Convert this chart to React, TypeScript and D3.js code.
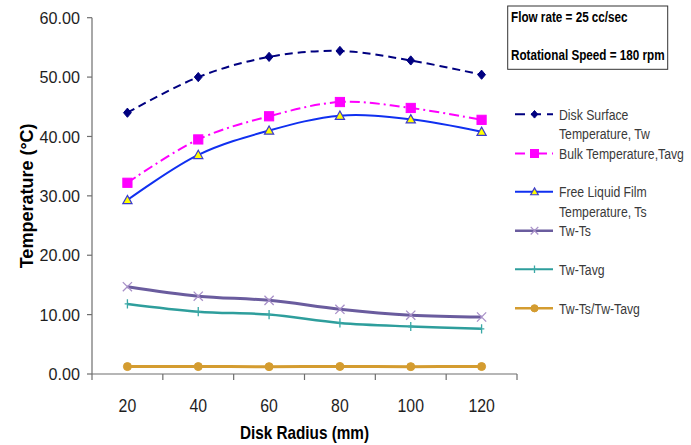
import React from "react";
import * as d3 from "d3";

// Disk radius categories (mm)
const radius: number[] = [20, 40, 60, 80, 100, 120];
// Temperatures (°C)
const diskSurface: number[] = [44.0, 50.0, 53.4, 54.4, 52.8, 50.4];
const bulkTemp: number[] = [32.2, 39.5, 43.4, 45.8, 44.8, 42.8];
const filmTemp: number[] = [29.3, 36.9, 41.0, 43.5, 42.9, 40.8];
const twMinusTs: number[] = [14.7, 13.1, 12.4, 10.9, 9.9, 9.6];
const twMinusTavg: number[] = [11.8, 10.5, 10.0, 8.6, 8.0, 7.6];
const ratio: number[] = [1.25, 1.25, 1.24, 1.27, 1.24, 1.26];
const yTicks: number[] = [0, 10, 20, 30, 40, 50, 60];

const legendLabels: string[][] = [
  ["Disk Surface", "Temperature, Tw"],
  ["Bulk Temperature,Tavg"],
  ["Free Liquid Film", "Temperature, Ts"],
  ["Tw-Ts"],
  ["Tw-Tavg"],
  ["Tw-Ts/Tw-Tavg"],
];
const noteLines: string[] = ["Flow rate = 25 cc/sec", "Rotational Speed = 180 rpm"];

const FONT = "'Liberation Sans', Arial, sans-serif";

type MarkerKind = "diamond" | "square" | "triangle" | "cross" | "plus" | "circle";

interface SeriesDef {
  values: number[];
  color: string;
  width: number;
  dash?: string;
  marker: MarkerKind;
  markerFill: string;
  markerStroke: string;
  legendY: number;
}

const series: SeriesDef[] = [
  { values: diskSurface, color: "#000080", width: 2, dash: "8,5", marker: "diamond", markerFill: "#000080", markerStroke: "#000080", legendY: 114.3 },
  { values: bulkTemp, color: "#ff00ff", width: 2, dash: "10,4,2,4", marker: "square", markerFill: "#ff00ff", markerStroke: "#ff00ff", legendY: 153.5 },
  { values: filmTemp, color: "#1030f0", width: 2, marker: "triangle", markerFill: "#ffff00", markerStroke: "#3a3ad0", legendY: 191.7 },
  { values: twMinusTs, color: "#6a5c9e", width: 3, marker: "cross", markerFill: "none", markerStroke: "#a890c8", legendY: 230.7 },
  { values: twMinusTavg, color: "#2e9e9c", width: 2.5, marker: "plus", markerFill: "none", markerStroke: "#3aa8a6", legendY: 269.3 },
  { values: ratio, color: "#d49c30", width: 3, marker: "circle", markerFill: "#d49c30", markerStroke: "#d49c30", legendY: 308.3 },
];

function Marker({ kind, x, y, s, fill, stroke }: { kind: MarkerKind; x: number; y: number; s: number; fill: string; stroke: string }) {
  switch (kind) {
    case "diamond":
      return <path d={`M${x},${y - s}L${x + s * 0.85},${y}L${x},${y + s}L${x - s * 0.85},${y}Z`} fill={fill} stroke={stroke} />;
    case "square":
      return <rect x={x - s} y={y - s} width={2 * s} height={2 * s} fill={fill} stroke={stroke} />;
    case "triangle":
      return <path d={`M${x},${y - s}L${x + s},${y + s * 0.8}L${x - s},${y + s * 0.8}Z`} fill={fill} stroke={stroke} strokeWidth={1.2} />;
    case "cross":
      return <path d={`M${x - s},${y - s}L${x + s},${y + s}M${x - s},${y + s}L${x + s},${y - s}`} stroke={stroke} strokeWidth={1.3} fill="none" />;
    case "plus":
      return <path d={`M${x},${y - s}L${x},${y + s}M${x - s * 0.6},${y}L${x + s * 0.6},${y}`} stroke={stroke} strokeWidth={1.3} fill="none" />;
    case "circle":
      return <circle cx={x} cy={y} r={s} fill={fill} stroke={stroke} />;
  }
}

export default function App() {
  const width = 691;
  const height = 445;
  const left = 92;
  const right = 517;
  const top = 17.7;
  const bottom = 374;

  const x = d3.scaleBand<number>().domain(radius).range([left, right]).padding(0);
  const y = d3.scaleLinear().domain([0, 60]).range([bottom, top]);
  const cx = (r: number) => (x(r) ?? 0) + x.bandwidth() / 2;

  const line = d3
    .line<number>()
    .x((_, i) => cx(radius[i]))
    .y((v) => y(v))
    .curve(d3.curveCatmullRom.alpha(0.5));

  const fmt = d3.format(".2f");
  const boundaries = d3.range(radius.length + 1).map((i) => left + i * x.bandwidth());
  const axisColor = "#6e6e6e";
  const textColor = "#1e1e1e";

  return (
    <svg width={width} height={height} style={{ position: "absolute", left: 0, top: 0, background: "#fff" }} fontFamily={FONT}>
      <rect width={width} height={height} fill="#fff" />

      {/* y axis */}
      <line x1={left} x2={left} y1={top} y2={bottom} stroke={axisColor} strokeWidth={1.2} />
      {yTicks.map((t) => (
        <g key={t}>
          <line x1={left - 5} x2={left} y1={y(t)} y2={y(t)} stroke={axisColor} strokeWidth={1.2} />
          <text transform={`translate(80,${y(t)}) scale(0.95,1)`} dy="0.36em" textAnchor="end" fontSize={17} fill={textColor}>
            {fmt(t)}
          </text>
        </g>
      ))}

      {/* x axis */}
      <line x1={left} x2={right} y1={bottom} y2={bottom} stroke={axisColor} strokeWidth={1.2} />
      {boundaries.map((b, i) => (
        <line key={i} x1={b} x2={b} y1={bottom} y2={bottom + 6} stroke={axisColor} strokeWidth={1.2} />
      ))}
      {radius.map((r) => (
        <text key={r} transform={`translate(${cx(r)},411.8) scale(0.88,1)`} textAnchor="middle" fontSize={18} fill={textColor}>
          {r}
        </text>
      ))}

      {/* axis titles */}
      <text transform={`translate(${(left + right) / 2},438.5) scale(0.85,1)`} textAnchor="middle" fontSize={18} fontWeight="bold" fill="#000">
        Disk Radius (mm)
      </text>
      <text transform={`translate(33,${(top + bottom) / 2}) rotate(-90)`} textAnchor="middle" fontSize={18} fontWeight="bold" fill="#000">
        Temperature (°C)
      </text>

      {/* series lines and markers */}
      {series.map((s, si) => (
        <g key={si}>
          <path d={line(s.values) ?? ""} fill="none" stroke={s.color} strokeWidth={s.width} strokeDasharray={s.dash} />
          {s.values.map((v, i) => (
            <Marker key={i} kind={s.marker} x={cx(radius[i])} y={y(v)} s={s.marker === "circle" ? 4 : 4.6} fill={s.markerFill} stroke={s.markerStroke} />
          ))}
        </g>
      ))}

      {/* legend */}
      {series.map((s, si) => (
        <g key={si}>
          <line x1={515} x2={553} y1={s.legendY} y2={s.legendY} stroke={s.color} strokeWidth={s.marker === "cross" || s.marker === "circle" ? 2.5 : 2} strokeDasharray={s.dash ? (si === 0 ? "10,6" : "10,5,2,5") : undefined} />
          <Marker kind={s.marker} x={534.5} y={s.legendY} s={s.marker === "circle" ? 3.6 : s.marker === "square" ? 4 : 3.8} fill={s.markerFill} stroke={s.markerStroke} />
          {legendLabels[si].map((t, li) => (
            <text key={li} transform={`translate(559,${s.legendY + li * 19.7}) scale(0.845,1)`} dy="0.36em" fontSize={14.5} fill="#3a3a3a">
              {t}
            </text>
          ))}
        </g>
      ))}

      {/* conditions note */}
      <rect x={507.7} y={6} width={160} height={63.3} fill="#fff" stroke="#333" strokeWidth={1} />
      {noteLines.map((t, i) => (
        <text key={i} transform={`translate(511,${i === 0 ? 16.7 : 54.3}) scale(0.78,1)`} dy="0.36em" fontSize={15} fontWeight="bold" fill="#000">
          {t}
        </text>
      ))}
    </svg>
  );
}
